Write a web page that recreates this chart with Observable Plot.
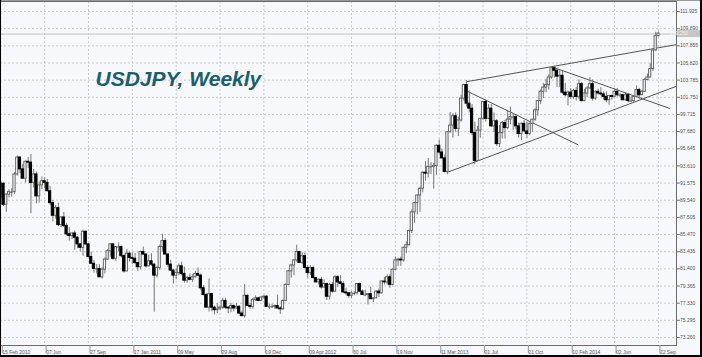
<!DOCTYPE html>
<html><head><meta charset="utf-8">
<script src="https://cdn.jsdelivr.net/npm/d3@7"></script>
<script src="https://cdn.jsdelivr.net/npm/@observablehq/plot@0.6"></script>
<style>
html,body{margin:0;padding:0;background:#f7f8fc;}
#chart{width:702px;height:357px;position:relative;overflow:hidden;}
svg{display:block;}
</style></head><body><div id="chart"></div>
<script>
// Weekly candles, week 0 = 15 Feb 2010 ... week 240 = 22 Sep 2014
const opens = [
89.9,91.5,89.0,90.2,90.5,90.5,92.6,94.6,93.2,92.1,94.1,94.0,91.6,92.6,90.0,91.3,91.8,91.6,90.6,89.2,
87.7,88.6,86.6,87.5,86.5,85.5,85.3,85.6,85.1,84.3,83.9,85.8,84.3,82.8,82.0,81.4,81.4,80.4,81.3,82.5,
83.5,84.3,82.6,84.0,84.0,82.9,81.1,83.2,82.7,82.6,82.1,81.6,83.4,83.1,81.7,82.3,81.9,80.6,81.5,84.0,
84.7,83.1,81.9,81.2,80.6,80.9,81.7,80.8,80.0,80.3,80.1,80.4,80.8,80.6,79.1,78.3,76.8,78.4,76.8,76.5,
76.6,76.8,77.6,76.8,76.7,77.0,76.7,76.9,76.1,75.8,78.2,77.0,76.9,77.7,77.9,77.6,78.0,78.1,76.9,76.9,
76.9,77.0,76.7,76.6,77.6,79.5,81.1,81.8,82.4,83.4,82.1,82.9,81.5,80.9,81.5,80.3,79.8,80.1,79.2,79.6,
78.1,79.5,78.7,80.4,79.8,79.6,78.6,78.5,78.2,78.5,78.5,79.6,78.7,78.3,78.3,78.4,77.8,77.9,78.7,78.5,
79.9,79.8,80.4,79.5,81.3,82.4,82.5,82.4,83.9,84.2,85.9,88.1,89.2,90.1,90.9,92.8,92.7,93.5,93.5,93.6,
96.0,95.2,94.5,92.9,97.6,98.4,99.5,98.0,99.0,101.6,103.2,101.0,100.4,97.5,94.2,97.8,99.2,101.2,99.2,100.4,
98.3,98.9,96.2,97.5,98.7,98.1,99.1,99.4,99.4,98.3,97.4,98.6,97.7,97.4,98.6,99.1,100.2,101.3,102.4,102.9,
103.2,104.1,105.2,104.9,104.2,104.3,102.3,102.0,102.3,101.8,102.5,101.8,103.3,101.3,102.2,102.8,103.3,101.6,102.4,102.2,
102.1,101.8,101.4,101.9,101.8,102.4,102.0,102.0,101.4,102.0,101.3,101.3,101.8,102.6,102.0,102.4,103.8,104.1,105.1,107.3,
109.0];
const highs = [
91.8,91.6,90.3,90.8,90.9,92.8,94.8,94.7,93.8,94.2,94.6,94.98,93.2,92.9,91.7,92.3,92.2,92.0,91.2,89.5,
88.9,89.2,87.5,88.1,86.8,86.3,85.6,85.9,85.2,84.4,86.0,85.9,84.4,83.4,82.4,81.9,81.9,81.5,82.7,83.7,
84.4,84.4,84.0,84.5,84.1,83.1,83.7,83.4,83.3,83.2,82.1,83.5,84.0,83.2,83.0,83.2,82.0,81.7,84.2,85.5,
85.0,83.2,82.4,81.3,81.4,82.0,82.2,81.6,80.5,80.8,80.7,81.1,81.5,80.8,79.4,78.5,80.2,78.5,77.0,77.3,
77.0,77.9,77.9,76.9,77.3,77.1,77.3,77.0,76.4,79.55,78.3,77.3,77.9,78.2,78.0,78.1,78.2,78.2,77.2,77.2,
77.1,78.3,76.9,77.7,79.6,81.2,81.9,82.5,84.2,83.5,83.3,83.3,81.8,81.8,81.7,80.4,80.2,80.4,80.1,79.7,
79.7,79.8,80.6,80.6,80.6,79.9,79.1,78.5,78.7,78.7,79.6,79.7,78.9,78.9,78.4,79.2,78.0,78.8,79.0,79.9,
80.4,80.7,80.7,81.4,82.8,82.6,82.8,84.0,84.6,86.0,88.4,89.3,90.2,91.1,92.9,94.1,94.5,94.0,93.9,96.1,
96.7,95.6,94.9,97.7,99.95,99.8,99.9,99.4,101.98,103.3,103.74,102.5,100.9,98.8,98.3,99.2,101.2,101.5,100.9,100.9,
99.9,99.1,98.4,98.9,99.0,100.2,100.6,99.7,99.6,98.7,98.7,99.0,98.8,98.7,99.1,100.4,101.4,102.6,103.4,103.9,
104.4,105.2,105.44,105.2,104.9,104.8,103.4,102.5,102.8,102.7,102.9,103.8,103.5,102.7,103.0,104.1,103.8,102.5,102.7,102.9,
102.4,102.4,101.9,102.0,102.8,102.8,102.2,102.1,102.3,102.2,101.8,101.9,103.1,102.8,102.6,104.0,104.5,105.7,107.4,109.46,
109.5];
const lows = [
89.8,88.8,88.1,89.8,89.9,90.2,92.4,92.7,92.0,91.6,93.3,87.95,91.0,89.1,89.2,90.8,90.9,90.6,88.9,86.97,
87.3,86.4,86.3,86.3,85.3,84.7,84.9,83.6,83.8,83.4,82.9,84.2,82.8,81.9,80.9,80.8,80.4,80.2,80.8,82.4,
82.8,82.4,82.3,83.4,82.7,80.9,81.1,82.2,81.9,81.9,81.1,81.3,83.0,81.5,81.6,81.7,76.25,80.3,81.2,83.4,
83.1,81.6,81.1,79.6,80.1,80.6,80.6,79.7,79.7,80.0,79.8,80.3,80.5,78.8,78.2,76.8,76.3,76.3,75.94,76.1,
76.5,76.6,76.6,76.1,76.2,76.3,76.6,76.0,75.7,75.56,77.0,76.6,76.6,77.5,77.5,77.6,77.8,76.9,76.6,76.7,
76.6,76.7,76.0,76.5,77.5,79.4,80.3,80.6,82.2,82.1,81.9,81.5,80.3,80.6,80.3,79.7,79.5,79.0,79.1,77.65,
77.7,78.5,78.6,79.2,79.5,78.5,78.3,77.9,77.9,78.2,78.3,78.6,78.3,78.1,77.13,77.8,77.4,77.9,78.0,78.4,
79.5,79.5,79.1,79.4,81.2,81.7,81.7,82.2,83.2,84.1,85.6,86.8,87.8,88.1,90.4,91.8,92.2,92.6,90.85,92.5,
95.0,94.4,92.8,92.57,97.5,96.9,97.6,97.1,98.8,101.3,100.6,99.9,97.2,93.8,94.1,96.9,99.0,98.8,99.1,98.2,
97.6,95.9,95.8,96.8,96.8,97.9,98.5,97.8,97.9,96.9,96.6,97.8,96.9,97.2,97.6,98.9,99.5,100.9,101.6,102.3,
102.6,103.9,104.0,102.9,102.9,102.1,101.8,100.75,101.5,101.5,101.3,101.5,101.2,101.2,101.7,102.7,101.3,101.4,102.0,101.9,
101.4,101.1,100.8,101.4,101.7,101.8,101.7,101.4,101.3,101.1,101.1,101.1,101.8,101.5,102.0,102.3,103.7,104.1,104.8,107.2,
108.9];
const closes = [
91.5,89.0,90.2,90.5,90.5,92.6,94.6,93.2,92.1,94.1,94.0,91.6,92.6,90.0,91.3,91.8,91.6,90.6,89.2,87.7,
88.6,86.6,87.5,86.5,85.5,85.3,85.6,85.1,84.3,83.9,85.8,84.3,82.8,82.0,81.4,81.4,80.4,81.3,82.5,83.5,
84.3,82.6,84.0,84.0,82.9,81.1,83.2,82.7,82.6,82.1,81.6,83.4,83.1,81.7,82.3,81.9,80.6,81.5,84.0,84.7,
83.1,81.9,81.2,80.6,80.9,81.7,80.8,80.0,80.3,80.1,80.4,80.8,80.6,79.1,78.3,76.8,78.4,76.8,76.5,76.6,
76.8,77.6,76.8,76.7,77.0,76.7,76.9,76.1,75.8,78.2,77.0,76.9,77.7,77.9,77.6,78.0,78.1,76.9,76.9,76.9,
77.0,76.7,76.6,77.6,79.5,81.1,81.8,82.4,83.4,82.1,82.9,81.5,80.9,81.5,80.3,79.8,80.1,79.2,79.6,78.1,
79.5,78.7,80.4,79.8,79.6,78.6,78.5,78.2,78.5,78.5,79.6,78.7,78.3,78.3,78.4,77.8,77.9,78.7,78.5,79.9,
79.8,80.4,79.5,81.3,82.4,82.5,82.4,83.9,84.2,85.9,88.1,89.2,90.1,90.9,92.8,92.7,93.5,93.5,93.6,96.0,
95.2,94.5,92.9,97.6,98.4,99.5,98.0,99.0,101.6,103.2,101.0,100.4,97.5,94.2,97.8,99.2,101.2,99.2,100.4,98.3,
98.9,96.2,97.5,98.7,98.1,99.1,99.4,99.4,98.3,97.4,98.6,97.7,97.4,98.6,99.1,100.2,101.3,102.4,102.9,103.2,
104.1,105.2,104.9,104.2,104.3,102.3,102.0,102.3,101.8,102.5,101.8,103.3,101.3,102.2,102.8,103.3,101.6,102.4,102.2,102.1,
101.8,101.4,101.9,101.8,102.4,102.0,102.0,101.4,102.0,101.3,101.3,101.8,102.6,102.0,102.4,103.8,104.1,105.1,107.3,109.0,
109.3];

const tickWeeks = [0,16,32,48,64,80,96,112,128,144,160,176,192,208,224,240];
const tickLabels = ["15 Feb 2010","07 Jun","27 Sep","17 Jan 2011","09 May","29 Aug","19 Dec","09 Apr 2012",
  "30 Jul","19 Nov","11 Mar 2013","01 Jul","21 Oct","10 Feb 2014","02 Jun","22 Sep"];
const priceTicks = [73.260,75.295,77.330,79.365,81.400,83.435,85.470,87.505,89.540,91.575,
  93.610,95.645,97.680,99.715,101.750,103.785,105.820,107.855,109.890,111.925];
const bidPrice = 109.25;
const bidLabel = "109.250";
// hand-drawn trend lines: start week/price -> end week/price
const lineStartWeek = [170, 162.8, 169.7, 201.8];
const lineStartPrice = [103.6, 92.83, 102.55, 105.28];
const lineEndWeek = [246.6, 246.6, 210.8, 244.2];
const lineEndPrice = [108.0, 103.06, 96.1, 100.42];
const titleText = "USDJPY, Weekly";

const candles = opens.map((o, i) => ({i, o, h: highs[i], l: lows[i], c: closes[i]}));
const lines = lineStartWeek.map((w, k) => ({w1: w, p1: lineStartPrice[k], w2: lineEndWeek[k], p2: lineEndPrice[k]}));
const labelOf = new Map(tickWeeks.map((w, k) => [w, tickLabels[k]]));

const chart = Plot.plot({
  width: 702, height: 357,
  marginLeft: 0, marginRight: 26, marginTop: 1, marginBottom: 12,
  style: {background: "#f7f8fc", fontFamily: "'Liberation Sans', Arial, sans-serif", color: "#555", overflow: "visible"},
  x: {type: "linear", domain: [-0.11, 246.6]},
  y: {domain: [72.311, 113.111]},
  marks: [
    Plot.gridY(priceTicks, {stroke: "#c9cad3", strokeOpacity: 1, strokeDasharray: "2,2"}),
    Plot.gridX(tickWeeks, {stroke: "#c9cad3", strokeOpacity: 1, strokeDasharray: "2,2"}),
    Plot.ruleY([bidPrice], {stroke: "#c4c4c4"}),
    Plot.link(lines, {x1: "w1", y1: "p1", x2: "w2", y2: "p2", stroke: "#555", strokeWidth: 1}),
    Plot.ruleX(candles, {x: "i", y1: "l", y2: "h", stroke: "#777"}),
    Plot.rect(candles, {filter: d => d.c >= d.o, x1: d => d.i - 0.4, x2: d => d.i + 0.4, y1: "o", y2: "c", fill: "#fff", stroke: "#666"}),
    Plot.rect(candles, {filter: d => d.c < d.o, x1: d => d.i - 0.4, x2: d => d.i + 0.4, y1: "o", y2: "c", fill: "#000", stroke: "#000"}),
    Plot.ruleY(candles, {filter: d => d.c === d.o, y: "c", x1: d => d.i - 0.5, x2: d => d.i + 0.5, stroke: "#555"}),
    Plot.frame({stroke: "#6a6a6a"}),
    Plot.axisY(priceTicks, {anchor: "right", tickSize: 3, tickPadding: 0.5, fontSize: 5, stroke: "#777",
      tickFormat: d => d.toFixed(3)}),
    Plot.axisX(tickWeeks, {anchor: "bottom", tickSize: 8, tickPadding: -3.2, dx: 1.5, textAnchor: "start", fontSize: 5, stroke: "#999",
      tickFormat: d => labelOf.get(d)}),
    Plot.text([titleText], {frameAnchor: "top-left", dx: 95, dy: 84.7, textAnchor: "start", lineAnchor: "bottom",
      fontSize: 21, fontWeight: "bold", fontStyle: "italic", fill: "#1b5e6d", fontFamily: "'Liberation Sans', Arial, sans-serif"})
  ]
});
document.getElementById("chart").appendChild(chart);

// current-price label box and outer window border
const svg = d3.select(chart);
const yb = chart.scale("y").apply(bidPrice);
svg.append("rect").attr("x", 677).attr("y", yb - 3.5).attr("width", 23).attr("height", 7).attr("fill", "#c6c6c6");
svg.append("text").attr("x", 679).attr("y", yb + 1.8).attr("font-size", 5).attr("fill", "#f2f2f2")
  .attr("font-family", "'Liberation Sans', Arial, sans-serif").text(bidLabel);
svg.append("line").attr("x1", 0).attr("x2", 702).attr("y1", 0.5).attr("y2", 0.5).attr("stroke", "#999");
svg.append("line").attr("x1", 0.5).attr("x2", 0.5).attr("y1", 0).attr("y2", 357).attr("stroke", "#000");
svg.append("line").attr("x1", 701).attr("x2", 701).attr("y1", 0).attr("y2", 357).attr("stroke", "#000").attr("stroke-width", 2);
svg.append("line").attr("x1", 0).attr("x2", 702).attr("y1", 356).attr("y2", 356).attr("stroke", "#000").attr("stroke-width", 2);
</script></body></html>
